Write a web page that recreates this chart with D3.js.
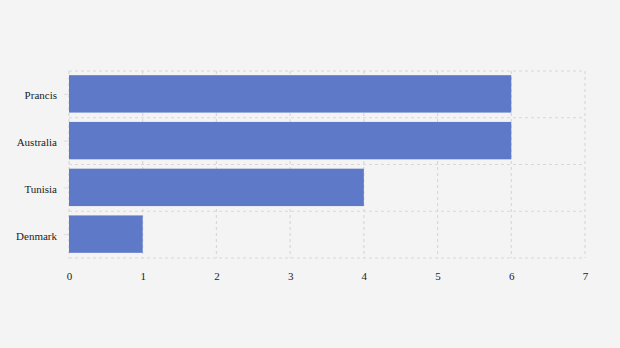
<!DOCTYPE html>
<html>
<head>
<meta charset="utf-8">
<script src="https://cdn.jsdelivr.net/npm/d3@7"></script>
<style>
  body { margin: 0; background: #f4f4f4; }
  svg { display: block; }
</style>
</head>
<body>
<svg id="chart"></svg>
<script>
const countries = ["Prancis", "Australia", "Tunisia", "Denmark"];
const counts = [6, 6, 4, 1];
const xTicks = [0, 1, 2, 3, 4, 5, 6, 7];

const width = 620, height = 348;
const margin = { top: 71, right: 35, bottom: 90, left: 69 };
const serif = "'Times New Roman', 'Liberation Serif', 'DejaVu Serif', serif";

const svg = d3.select("#chart").attr("width", width).attr("height", height);
svg.append("rect").attr("width", width).attr("height", height).attr("fill", "#f4f4f4");

const x = d3.scaleLinear().domain([0, 7]).range([margin.left, width - margin.right]);
const y = d3.scaleBand().domain(countries).range([margin.top, height - margin.bottom]).paddingInner(0.2).paddingOuter(0.1);

// grid: vertical at ticks, horizontal at band edges
const gridColor = "#d8d8d8";
const grid = svg.append("g").attr("stroke", gridColor).attr("stroke-width", 1.2).attr("stroke-dasharray", "3,3");
grid.selectAll("line.v")
    .data(xTicks)
    .enter()
    .append("line")
    .attr("x1", d => x(d)).attr("x2", d => x(d))
    .attr("y1", margin.top).attr("y2", height - margin.bottom);

const step = y.step();
const edges = countries.map((c, i) => margin.top + i * step).concat([height - margin.bottom]);
grid.selectAll("line.h")
    .data(edges)
    .enter()
    .append("line")
    .attr("x1", margin.left).attr("x2", width - margin.right)
    .attr("y1", d => d).attr("y2", d => d);

// bars
svg.append("g").selectAll("rect")
    .data(countries)
    .enter()
    .append("rect")
    .attr("x", x(0))
    .attr("y", d => y(d) - 0.5)
    .attr("width", (d, i) => x(counts[i]) - x(0))
    .attr("height", y.bandwidth())
    .attr("fill", "#5f79c9");

// y axis
const yAxis = svg.append("g")
    .attr("transform", `translate(${margin.left},0)`)
    .call(d3.axisLeft(y).tickSize(5).tickPadding(7));
yAxis.select(".domain").remove();
yAxis.selectAll(".tick line").attr("stroke", "#ddd");
yAxis.selectAll(".tick text")
    .attr("dy", "0.45em")
    .style("font-family", serif)
    .style("font-size", "11px")
    .style("fill", "#222");

// x axis
const xAxis = svg.append("g")
    .attr("transform", `translate(0,${height - margin.bottom})`)
    .call(d3.axisBottom(x).tickValues(xTicks).tickFormat(d3.format("d")).tickSize(0).tickPadding(14));
xAxis.select(".domain").remove();
xAxis.selectAll(".tick text")
    .style("font-family", serif)
    .style("font-size", "11px")
    .style("fill", "#222");
</script>
</body>
</html>
